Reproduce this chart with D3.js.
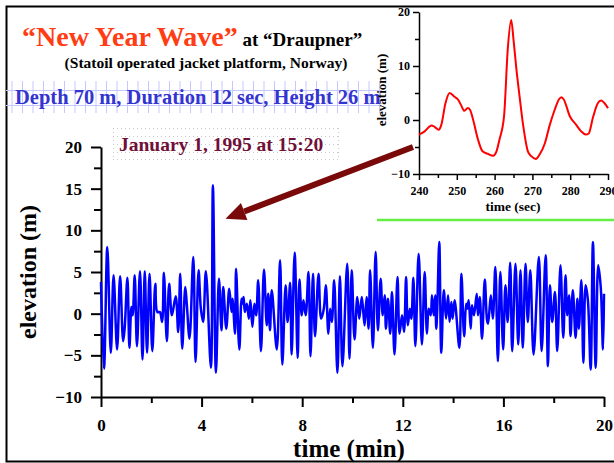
<!DOCTYPE html>
<html>
<head>
<meta charset="utf-8">
<script src="https://cdn.jsdelivr.net/npm/d3@7"></script>
<style>
  body { margin: 0; background: #fff; }
  svg text { font-family: "Liberation Serif", "Times New Roman", serif; font-weight: bold; }
</style>
</head>
<body>
<div id="chart"></div>
<script>
// main record: time (min), elevation (m)
const mainTime = [
  0.00,0.12,0.25,0.39,0.50,0.64,0.76,0.88,0.94,1.05,1.13,1.21,1.26,1.34,1.43,1.55,1.65,1.74,1.83,1.93,
  2.04,2.16,2.24,2.34,2.43,2.50,2.62,2.71,2.82,2.97,3.07,3.15,3.23,3.35,3.41,3.52,3.67,3.76,3.88,3.97,
  4.06,4.17,4.37,4.45,4.57,4.69,4.79,4.86,4.98,5.10,5.19,5.23,5.33,5.37,5.50,5.59,5.63,5.67,5.72,5.80,
  5.88,5.94,6.02,6.10,6.17,6.25,6.36,6.48,6.59,6.65,6.72,6.79,6.99,7.12,7.21,7.34,7.42,7.52,7.58,7.70,
  7.82,7.89,7.98,8.05,8.14,8.25,8.33,8.43,8.51,8.65,8.75,8.86,8.94,9.04,9.11,9.18,9.27,9.40,9.50,9.60,
  9.79,9.88,9.97,10.08,10.19,10.27,10.37,10.48,10.56,10.64,10.70,10.81,10.92,11.01,11.12,11.20,11.28,11.33,11.41,11.50,
  11.57,11.67,11.79,11.87,11.97,12.05,12.13,12.20,12.28,12.34,12.42,12.50,12.63,12.76,12.87,12.96,13.03,13.11,13.16,13.23,
  13.29,13.33,13.37,13.45,13.53,13.63,13.72,13.80,13.86,13.93,13.98,14.06,14.25,14.33,14.44,14.52,14.57,14.62,14.70,14.75,
  14.83,14.94,14.99,15.06,15.15,15.26,15.35,15.39,15.50,15.58,15.68,15.78,15.88,15.99,16.08,16.17,16.27,16.35,16.48,16.59,
  16.68,16.77,16.88,16.97,17.07,17.20,17.41,17.52,17.68,17.77,17.85,17.94,18.05,18.14,18.27,18.38,18.47,18.54,18.61,18.67,
  18.76,18.87,18.94,19.00,19.10,19.18,19.27,19.36,19.47,19.56,19.67,19.77,19.87,19.96,20.00
];
const mainElev = [
  3.8,-6.6,8.0,-4.7,4.6,-4.3,4.5,-3.3,-1.8,4.3,-4.1,0.8,-0.2,4.6,-3.9,5.1,-5.5,5.1,-4.7,4.8,
  -4.5,3.6,0.2,0.2,-1.0,4.9,-3.3,3.6,-0.2,2.1,-2.2,4.8,-4.2,3.2,1.2,-3.0,6.8,-5.8,5.2,0.6,
  -1.0,5.1,-6.5,15.4,-7.1,4.2,-2.0,3.2,-1.8,3.0,0.2,1.8,-2.4,5.4,-4.3,1.8,1.2,2.0,0.2,1.2,
  -0.6,1.6,-1.6,1.2,-0.2,4.0,-4.5,5.3,-1.4,2.4,-2.0,2.8,-4.3,6.4,-6.1,3.4,-1.0,3.7,-4.9,7.3,
  -5.3,4.1,-0.2,1.6,-0.2,5.0,-5.1,4.8,-2.7,4.8,-0.6,0.6,3.4,-2.4,0.6,-1.0,4.0,-7.1,4.5,-6.3,
  6.0,-5.4,5.2,-3.1,2.0,-0.6,2.0,-1.4,2.0,-1.8,5.2,-4.1,7.4,-2.0,4.2,-0.2,2.2,-1.8,1.8,-2.4,
  2.6,-4.9,4.4,-2.4,-0.2,-2.2,4.4,-1.4,0.6,-0.6,4.3,-3.9,7.2,-3.7,5.0,-2.4,0.6,-0.2,2.2,-0.2,
  2.2,-1.8,0.6,8.6,-4.7,2.8,-0.6,2.2,-1.0,1.4,-0.6,1.6,-4.1,4.8,-2.7,1.2,0.6,1.6,-1.8,1.0,
  -0.2,2.4,-0.2,2.0,-3.0,4.1,-0.8,-1.2,2.2,-0.6,5.6,-5.7,5.0,-4.3,3.4,-1.0,6.1,-4.5,6.0,-3.7,
  5.2,-4.1,6.0,-1.0,5.2,-4.9,6.8,-4.5,7.0,-6.3,3.4,-1.0,2.6,-4.5,5.8,-2.9,4.6,-0.2,2.2,-2.7,
  2.8,-2.9,1.8,-1.8,4.0,-5.9,3.4,1.6,-6.7,8.6,-6.5,5.8,3.2,-4.3,2.4
];

// inset zoom: time (sec), elevation (m)
const insetTime = [
  240,241.5,243.3,244.2,245.2,245.9,247,248.1,249.4,250.3,251.1,252,252.9,253.5,254.3,255.6,256.8,258.3,259.6,260.5,
  261.3,262.5,263.5,264.4,265,265.7,266.6,267.6,268.8,269.7,270.9,271.9,273.3,274.6,275.9,277,277.7,278.3,279.9,281.6,
  282.9,284.1,284.9,286,287.3,288.2,289.1,290
];
const insetElev = [
  -2.7,-2.1,-1.0,-1.3,-1.8,-0.9,3.1,5.0,4.3,3.8,2.8,1.7,2.2,1.9,0.1,-3.6,-5.8,-6.3,-6.6,-5.8,
  -3.6,0.7,13.3,18.5,14.9,9.9,4.4,-1.2,-5.8,-6.7,-7.2,-6.4,-4.3,-0.9,1.9,3.8,4.2,3.8,0.7,-0.9,
  -2.1,-2.7,-2.5,0.4,3.1,3.6,3.1,2.2
];

const mainXTicks = [0, 4, 8, 12, 16, 20];
const mainXMinor = [2, 6, 10, 14, 18];
const mainYTicks = [-10, -5, 0, 5, 10, 15, 20];
const mainYMinor = [-7.5, -2.5, 2.5, 7.5, 12.5, 17.5];
const insetXTicks = [240, 250, 260, 270, 280, 290];
const insetXMinor = [245, 255, 265, 275, 285];
const insetYTicks = [-10, 0, 10, 20];
const insetYMinor = [-5, 5, 15];

const W = 614, H = 463;
const svg = d3.select('#chart').append('svg')
  .attr('width', W).attr('height', H);

// frame
svg.append('path')
  .attr('d', 'M620,6.5 H6.5 V461.5 H620')
  .attr('fill', 'none').attr('stroke', '#000').attr('stroke-width', 2);

// header texts
const t1 = svg.append('text').attr('x', 22).attr('y', 46);
t1.append('tspan').text('\u201CNew Year Wave\u201D')
  .attr('fill', '#ff3c14').attr('font-size', 28);
t1.append('tspan').text(' at \u201CDraupner\u201D')
  .attr('fill', '#000').attr('font-size', 19);

svg.append('text').attr('x', 206).attr('y', 68)
  .attr('text-anchor', 'middle').attr('font-size', 15.5)
  .text('(Statoil operated jacket platform, Norway)');

// light blue grid behind the depth line
const gridBlue = svg.append('g').attr('stroke', '#c4c8ff').attr('stroke-width', 1);
d3.range(12, 382, 10.5).forEach(gx => {
  gridBlue.append('line').attr('x1', gx).attr('x2', gx).attr('y1', 81).attr('y2', 113);
});
[90.5, 105.5].forEach(gy => {
  gridBlue.append('line').attr('x1', 6).attr('x2', 382).attr('y1', gy).attr('y2', gy);
});
svg.append('text').attr('x', 15).attr('y', 104)
  .attr('fill', '#3434d0').attr('font-size', 20.5)
  .text('Depth 70 m, Duration 12 sec, Height 26 m');

// dotted box behind the date
const dots = svg.append('g').attr('stroke', '#c8c8c8').attr('stroke-width', 1)
  .attr('stroke-dasharray', '1,3');
[128.5, 136.5, 144.5, 152.5, 159.5].forEach(gy => {
  dots.append('line').attr('x1', 113).attr('x2', 339).attr('y1', gy).attr('y2', gy);
});
[113.5, 338.5].forEach(gx => {
  dots.append('line').attr('x1', gx).attr('x2', gx).attr('y1', 128).attr('y2', 160);
});
svg.append('text').attr('x', 119).attr('y', 151)
  .attr('fill', '#701038').attr('font-size', 19.5)
  .text('January 1, 1995 at 15:20');

// ---------- main chart
const x = d3.scaleLinear().domain([0, 20]).range([101, 604]);
const y = d3.scaleLinear().domain([-10, 20]).range([397, 147]);

function styleAxis(g, fs) {
  g.select('.domain').attr('stroke-width', 2);
  g.selectAll('.tick line').attr('stroke-width', 2);
  g.selectAll('text').attr('font-size', fs).attr('fill', '#000')
    .style('font-family', '"Liberation Serif", serif').style('font-weight', 'bold');
}

svg.append('g').attr('transform', 'translate(0,397)')
  .call(d3.axisBottom(x).tickValues(mainXMinor).tickSize(6).tickFormat(''))
  .call(g => { g.select('.domain').remove(); g.selectAll('line').attr('stroke-width', 2); });
svg.append('g').attr('transform', 'translate(0,397)')
  .call(d3.axisBottom(x).tickValues(mainXTicks).tickSize(10).tickPadding(12).tickSizeOuter(0))
  .call(g => styleAxis(g, 17));

svg.append('g').attr('transform', 'translate(101,0)')
  .call(d3.axisLeft(y).tickValues(mainYMinor).tickSize(7).tickFormat(''))
  .call(g => { g.select('.domain').remove(); g.selectAll('line').attr('stroke-width', 2); });
svg.append('g').attr('transform', 'translate(101,0)')
  .call(d3.axisLeft(y).tickValues(mainYTicks).tickSize(10).tickPadding(9).tickSizeOuter(0))
  .call(g => styleAxis(g, 17));

svg.append('text').attr('x', 349).attr('y', 457)
  .attr('text-anchor', 'middle').attr('font-size', 25).text('time (min)');
svg.append('text')
  .attr('transform', 'translate(36,272) rotate(-90)')
  .attr('text-anchor', 'middle').attr('font-size', 24).text('elevation (m)');

const mainData = mainTime.map((t, i) => [t, mainElev[i]]);
svg.append('path')
  .datum(mainData)
  .attr('fill', 'none').attr('stroke', '#0000ff').attr('stroke-width', 2.5)
  .attr('stroke-linejoin', 'round')
  .attr('d', d3.line().x(d => x(d[0])).y(d => y(d[1])).curve(d3.curveCatmullRom.alpha(0.5)));

// ---------- inset
const xi = d3.scaleLinear().domain([240, 290]).range([419, 608]);
const yi = d3.scaleLinear().domain([-10, 20]).range([174, 12]);

svg.append('g').attr('transform', 'translate(0,174)')
  .call(d3.axisBottom(xi).tickValues(insetXMinor).tickSize(4).tickFormat(''))
  .call(g => { g.select('.domain').remove(); g.selectAll('line').attr('stroke-width', 1.5); });
svg.append('g').attr('transform', 'translate(0,174)')
  .call(d3.axisBottom(xi).tickValues(insetXTicks).tickSize(6).tickPadding(6).tickSizeOuter(0))
  .call(g => {
    styleAxis(g, 12);
    g.select('.domain').attr('stroke-width', 1.5);
    g.selectAll('.tick line').attr('stroke-width', 1.5);
  });
svg.append('g').attr('transform', 'translate(419,0)')
  .call(d3.axisLeft(yi).tickValues(insetYMinor).tickSize(4).tickFormat(''))
  .call(g => { g.select('.domain').remove(); g.selectAll('line').attr('stroke-width', 1.5); });
svg.append('g').attr('transform', 'translate(419,0)')
  .call(d3.axisLeft(yi).tickValues(insetYTicks).tickSize(6).tickPadding(3).tickSizeOuter(0))
  .call(g => {
    styleAxis(g, 12);
    g.select('.domain').attr('stroke-width', 1.5);
    g.selectAll('.tick line').attr('stroke-width', 1.5);
  });

svg.append('text').attr('x', 513).attr('y', 211)
  .attr('text-anchor', 'middle').attr('font-size', 13.5).text('time (sec)');
svg.append('text')
  .attr('transform', 'translate(386,90) rotate(-90)')
  .attr('text-anchor', 'middle').attr('font-size', 13).text('elevation (m)');

const insetData = insetTime.map((t, i) => [t, insetElev[i]]);
svg.append('path')
  .datum(insetData)
  .attr('fill', 'none').attr('stroke', '#ff0000').attr('stroke-width', 2)
  .attr('d', d3.line().x(d => xi(d[0])).y(d => yi(d[1])).curve(d3.curveMonotoneX));

// green rule under the inset
svg.append('line').attr('x1', 377).attr('x2', 614).attr('y1', 220).attr('y2', 220)
  .attr('stroke', '#66ee44').attr('stroke-width', 2.5);

// arrow from inset to the freak wave
const tail = [xi(240) - 6, yi(-5)];
const tip = [x(4.95), y(11.4)];
const ang = Math.atan2(tip[1] - tail[1], tip[0] - tail[0]);
const headLen = 20, headW = 9;
const base = [tip[0] - headLen * Math.cos(ang), tip[1] - headLen * Math.sin(ang)];
svg.append('line')
  .attr('x1', tail[0]).attr('y1', tail[1]).attr('x2', base[0]).attr('y2', base[1])
  .attr('stroke', '#7a0a0a').attr('stroke-width', 6);
svg.append('path')
  .attr('d', d3.line()([
    tip,
    [base[0] + headW * Math.sin(ang), base[1] - headW * Math.cos(ang)],
    [base[0] - headW * Math.sin(ang), base[1] + headW * Math.cos(ang)]
  ]) + 'Z')
  .attr('fill', '#7a0a0a');
</script>
</body>
</html>
